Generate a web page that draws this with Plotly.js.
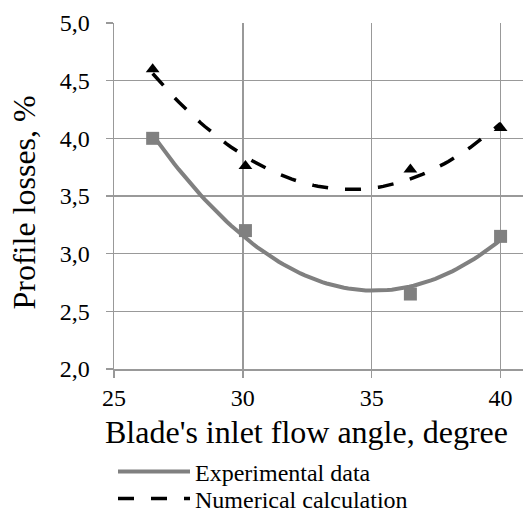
<!DOCTYPE html>
<html>
<head>
<meta charset="utf-8">
<script src="https://cdn.plot.ly/plotly-3.0.1.min.js"></script>
<style>
  html, body { margin: 0; padding: 0; background: #ffffff; }
  #chart { width: 523px; height: 513px; }
</style>
</head>
<body>
<div id="chart"></div>
<script>
// ---- data ----
var angle = [26.5, 30.1, 36.5, 40];
var experimental = [4.0, 3.2, 2.65, 3.15];
var numerical = [4.6, 3.76, 3.73, 4.09];
var seriesNames = ["Experimental data", "Numerical calculation"];
var xTitle = "Blade's inlet flow angle, degree";
var yTitle = "Profile losses, %";
var yTickVals = [2.0, 2.5, 3.0, 3.5, 4.0, 4.5, 5.0];
var yTickText = ["2,0", "2,5", "3,0", "3,5", "4,0", "4,5", "5,0"];
var xTickVals = [25, 30, 35, 40];

// ---- 2nd order polynomial trendline (least squares), as in the source chart ----
function polyFit2(xs, ys) {
  var S = [0, 0, 0, 0, 0], T = [0, 0, 0];
  for (var i = 0; i < xs.length; i++) {
    var p = 1;
    for (var k = 0; k < 5; k++) { S[k] += p; if (k < 3) T[k] += p * ys[i]; p *= xs[i]; }
  }
  var A = [[S[0], S[1], S[2], T[0]], [S[1], S[2], S[3], T[1]], [S[2], S[3], S[4], T[2]]];
  for (var c = 0; c < 3; c++) {
    var piv = c;
    for (var r = c + 1; r < 3; r++) if (Math.abs(A[r][c]) > Math.abs(A[piv][c])) piv = r;
    var tmp = A[c]; A[c] = A[piv]; A[piv] = tmp;
    for (var r2 = 0; r2 < 3; r2++) {
      if (r2 === c) continue;
      var f = A[r2][c] / A[c][c];
      for (var k2 = c; k2 < 4; k2++) A[r2][k2] -= f * A[c][k2];
    }
  }
  return [A[0][3] / A[0][0], A[1][3] / A[1][1], A[2][3] / A[2][2]];
}
function trend(xs, ys) {
  var co = polyFit2(xs, ys);
  var x0 = Math.min.apply(null, xs), x1 = Math.max.apply(null, xs);
  var tx = [], ty = [];
  var n = 80;
  for (var i = 0; i <= n; i++) {
    var x = x0 + (x1 - x0) * i / n;
    tx.push(x); ty.push(co[0] + co[1] * x + co[2] * x * x);
  }
  return { x: tx, y: ty };
}
var expTrend = trend(angle, experimental);
var numTrend = trend(angle, numerical);

var FONT = "Liberation Serif";
var GRID = "#999999";

var traces = [
  { x: expTrend.x, y: expTrend.y, type: "scatter", mode: "lines", name: seriesNames[0],
    legend: "legend", line: { color: "#808080", width: 4 }, hoverinfo: "skip" },
  { x: numTrend.x, y: numTrend.y, type: "scatter", mode: "lines", name: seriesNames[1],
    legend: "legend2", line: { color: "#000000", width: 3.5, dash: "16px,17px" }, hoverinfo: "skip" },
  { x: angle, y: experimental, type: "scatter", mode: "markers", showlegend: false,
    name: seriesNames[0], marker: { symbol: "square", size: 13, color: "#808080" } },
  { x: angle, y: numerical, type: "scatter", mode: "markers", showlegend: false,
    name: seriesNames[1], marker: { symbol: "triangle-up", size: 12, color: "#000000" } }
];

var W = 523, H = 513, ML = 114, MR = 0, MT = 23, MB = 144;
var pw = W - ML - MR, ph = H - MT - MB;
function px2x(p) { return (p - ML) / pw; }
function py2y(p) { return (H - MB - p) / ph; }

function legendAt(yPix) {
  return {
    x: px2x(113), y: py2y(yPix), xanchor: "left", yanchor: "middle",
    orientation: "v", bgcolor: "rgba(0,0,0,0)", borderwidth: 0,
    font: { family: FONT, size: 24, color: "#000000" },
    itemwidth: 72, tracegroupgap: 0
  };
}

var layout = {
  width: W, height: H,
  margin: { l: ML, r: MR, t: MT, b: MB, pad: 0, autoexpand: false },
  paper_bgcolor: "#ffffff", plot_bgcolor: "#ffffff",
  font: { family: FONT, color: "#000000", size: 24 },
  showlegend: true,
  legend: legendAt(472),
  legend2: legendAt(499),
  xaxis: {
    range: [25, 40.87], tickvals: xTickVals, ticktext: xTickVals.map(String),
    showgrid: true, gridcolor: GRID, gridwidth: 1.5,
    showline: true, linecolor: GRID, linewidth: 1.5,
    ticks: "outside", ticklen: 7, tickcolor: GRID, tickwidth: 1.5,
    zeroline: false, tickfont: { family: FONT, size: 24, color: "#000000" },
    ticklabelstandoff: 0, automargin: false, fixedrange: true
  },
  yaxis: {
    range: [2, 5], tickvals: yTickVals, ticktext: yTickText,
    showgrid: true, gridcolor: GRID, gridwidth: 1.5,
    showline: true, linecolor: GRID, linewidth: 1.5,
    ticks: "outside", ticklen: 7, tickcolor: GRID, tickwidth: 1.5,
    zeroline: false, tickfont: { family: FONT, size: 24, color: "#000000" },
    ticklabelstandoff: 11, automargin: false, fixedrange: true
  },
  annotations: [
    { text: xTitle, xref: "paper", yref: "paper", x: px2x(306.5), y: py2y(432),
      xanchor: "center", yanchor: "middle", showarrow: false,
      font: { family: FONT, size: 32, color: "#000000" } },
    { text: yTitle, xref: "paper", yref: "paper", x: px2x(23), y: py2y(202.5),
      xanchor: "center", yanchor: "middle", showarrow: false, textangle: -90,
      font: { family: FONT, size: 32, color: "#000000" } }
  ]
};

Plotly.newPlot("chart", traces, layout, { staticPlot: true, displayModeBar: false });
</script>
</body>
</html>
